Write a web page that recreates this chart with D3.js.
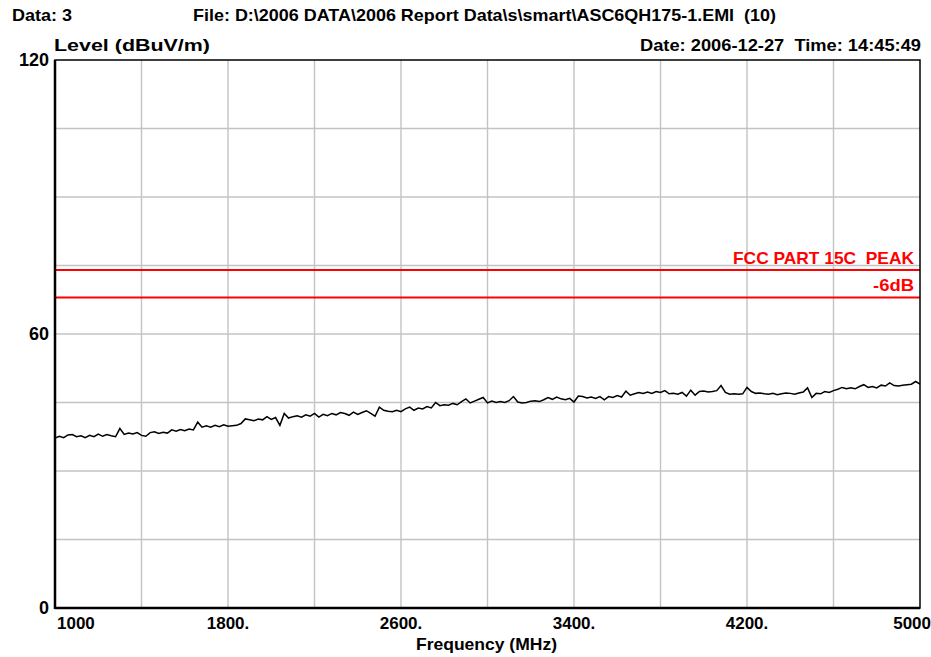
<!DOCTYPE html>
<html><head><meta charset="utf-8">
<script src="https://cdn.jsdelivr.net/npm/d3@7"></script>
<style>
html,body{margin:0;padding:0;background:#fff;}
text{font-family:"Liberation Sans",Arial,sans-serif;font-weight:bold;white-space:pre;}
</style></head>
<body><svg id="c" width="931" height="657"></svg>
<script>
const freqStart = 1000, freqStep = 20;
const levels = [
37.2,37.6,37.3,37.9,38.0,37.5,37.7,37.3,37.8,37.5,38.1,37.6,38.0,37.7,37.5,39.3,38.0,38.3,38.1,38.4,37.8,
37.6,38.4,38.6,38.2,38.5,38.3,39.0,38.7,39.1,38.8,39.2,39.0,40.7,39.6,39.9,39.6,40.0,39.7,40.1,39.8,
39.9,40.0,40.4,41.4,41.2,41.0,41.4,41.2,41.9,41.3,41.7,40.0,42.6,41.6,41.9,42.1,41.8,42.3,42.0,42.6,
41.8,42.4,42.1,42.6,42.3,42.8,42.6,42.2,42.9,42.4,42.8,43.2,42.6,42.0,44.0,43.3,43.1,43.0,43.3,43.0,
43.6,44.0,43.3,43.8,43.6,44.1,43.8,45.0,44.3,44.5,44.4,44.8,44.5,45.2,45.8,44.9,45.3,45.7,46.1,44.9,
45.3,45.0,45.2,45.0,45.4,46.3,45.1,44.9,45.0,45.3,45.4,45.2,45.6,46.1,45.7,46.2,45.8,45.6,45.9,45.1,
46.4,46.3,46.0,46.2,45.9,46.3,45.6,46.3,46.1,46.5,46.2,47.5,46.6,46.9,47.2,47.0,47.3,47.0,47.4,47.2,
47.6,46.9,47.0,46.8,47.2,46.4,47.7,46.6,47.4,47.5,47.3,47.4,47.6,48.7,47.2,46.8,46.9,46.8,46.9,48.3,
47.4,47.0,47.1,46.9,46.8,47.0,46.7,46.9,47.1,47.0,46.8,47.1,47.3,48.2,46.1,47.0,46.9,47.4,47.2,47.6,
47.9,48.3,48.0,48.2,48.0,48.5,48.9,48.3,48.5,48.2,48.8,48.6,49.3,48.7,48.6,48.8,48.9,49.0,49.6,49.0
];
const xTicks = [1000,1800,2600,3400,4200,5000];
const xTickLabels = ["1000","1800.","2600.","3400.","4200.","5000"];
const xGrid = [1400,1800,2200,2600,3000,3400,3800,4200,4600];
const yTicks = [0,60,120];
const yGrid = [15,30,45,60,75,90,105];
const limitNames = ["FCC PART 15C  PEAK","-6dB"];
const limitValues = [74,68];

const data = levels.map((v,i)=>({f:freqStart+i*freqStep, v}));
const svg = d3.select("#c");
const L=55, R=920, T=60, B=608;
const x = d3.scaleLinear().domain([1000,5000]).range([L,R]);
const y = d3.scaleLinear().domain([0,120]).range([B,T]);

// grid
svg.append("g").selectAll("line").data(xGrid).join("line")
  .attr("x1",d=>x(d)).attr("x2",d=>x(d)).attr("y1",T).attr("y2",B)
  .attr("stroke","#c3c3c3").attr("stroke-width",1.4);
svg.append("g").selectAll("line").data(yGrid).join("line")
  .attr("x1",L).attr("x2",R).attr("y1",d=>y(d)).attr("y2",d=>y(d))
  .attr("stroke","#c3c3c3").attr("stroke-width",1.4);

// limit lines
svg.append("g").selectAll("line").data(limitValues).join("line")
  .attr("x1",L).attr("x2",R).attr("y1",d=>y(d)).attr("y2",d=>y(d))
  .attr("stroke","#ff0000").attr("stroke-width",2);
const limLens = [181,41];
svg.append("g").selectAll("text").data(limitNames).join("text")
  .attr("x",914).attr("y",(d,i)=>y(limitValues[i])-6)
  .attr("text-anchor","end").attr("fill","#ff0000").attr("font-size",17)
  .attr("textLength",(d,i)=>limLens[i]).attr("lengthAdjust","spacingAndGlyphs")
  .text(d=>d);

// trace
svg.append("path").datum(data)
  .attr("d",d3.line().x(d=>x(d.f)).y(d=>y(d.v)))
  .attr("fill","none").attr("stroke","#000").attr("stroke-width",1.5);

// frame
svg.append("rect").attr("x",L).attr("y",T).attr("width",R-L).attr("height",B-T)
  .attr("fill","none").attr("stroke","#000").attr("stroke-width",1.5);
svg.append("line").attr("x1",L).attr("x2",L).attr("y1",T).attr("y2",B+1).attr("stroke","#000").attr("stroke-width",2.5);
svg.append("line").attr("x1",L).attr("x2",R).attr("y1",B).attr("y2",B).attr("stroke","#000").attr("stroke-width",2.5);

// y tick labels
svg.append("g").selectAll("text").data(yTicks).join("text")
  .attr("x",49).attr("y",d=>y(d)+6).attr("text-anchor","end").attr("font-size",18)
  .text(d=>d);
// x tick labels
svg.append("g").selectAll("text").data(xTicks).join("text")
  .attr("x",(d,i)=> i===0 ? x(d)+2 : (i===xTicks.length-1 ? x(d)+11 : x(d)))
  .attr("y",629)
  .attr("text-anchor",(d,i)=> i===0 ? "start" : (i===xTicks.length-1 ? "end" : "middle"))
  .attr("font-size",17)
  .text((d,i)=>xTickLabels[i]);

// titles
function txt(s,xp,yp,anchor,len){
  const t = svg.append("text").attr("x",xp).attr("y",yp).attr("text-anchor",anchor).attr("font-size",17).text(s);
  if(len) t.attr("textLength",len).attr("lengthAdjust","spacingAndGlyphs");
  return t;
}
txt("Data: 3",12,21,"start",60);
txt("File: D:\\2006 DATA\\2006 Report Data\\s\\smart\\ASC6QH175-1.EMI  (10)",193,21,"start",583);
txt("Level (dBuV/m)",54,51,"start",156);
txt("Date: 2006-12-27  Time: 14:45:49",921,51,"end",281);
txt("Frequency (MHz)",416,650,"start",141);
</script></body></html>
